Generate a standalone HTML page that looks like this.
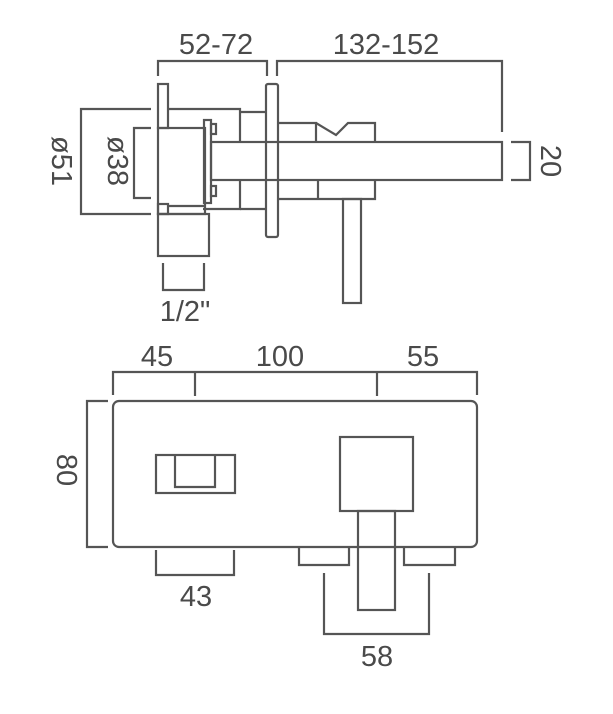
<!DOCTYPE html>
<html><head><meta charset="utf-8"><style>
html,body{margin:0;padding:0;background:#fff}
svg{display:block}
text{font-family:"Liberation Sans","DejaVu Sans",sans-serif;font-size:29px;fill:#4a4a4a}
</style></head><body>
<svg width="613" height="714" viewBox="0 0 613 714" xmlns="http://www.w3.org/2000/svg">
<g fill="none" stroke="#555" stroke-width="2.2">
<polyline points="158,76 158,61 267,61 267,76"/>
<polyline points="277,76 277,61 502,61 502,132"/>
<polyline points="151,109 81,109 81,214 151,214"/>
<polyline points="151,128 134,128 134,198 151,198"/>
<polyline points="511,142 530,142 530,180 511,180"/>
<polyline points="163,263 163,290 204,290 204,263"/>
<rect x="158" y="84" width="10" height="44"/>
<polyline points="168,109 240,109 240,142"/>
<polyline points="240,180 240,209 203,209"/>
<rect x="158" y="128" width="47" height="86"/>
<rect x="204" y="120" width="7" height="83"/>
<rect x="211" y="124" width="5" height="10"/>
<rect x="211" y="186" width="5" height="10"/>
<polyline points="240,112 267,112"/>
<polyline points="240,209 267,209"/>
<rect x="266" y="84" width="12" height="153" rx="2"/>
<rect x="211" y="142" width="291" height="38"/>
<polyline points="279,123 316,123 316,142"/>
<polyline points="316,123 336,135 348,123 375,123 375,142"/>
<polyline points="279,199 375,199 375,180"/>
<polyline points="318,180 318,199"/>
<rect x="343" y="199" width="18" height="104"/>
<rect x="158" y="214" width="51" height="42"/>
<rect x="158" y="204" width="10" height="10"/>
<line x1="168" y1="206" x2="204" y2="206"/>
<polyline points="113,395 113,372 477,372 477,395"/>
<line x1="195" y1="372" x2="195" y2="396"/>
<line x1="377" y1="372" x2="377" y2="396"/>
<rect x="113" y="401" width="364" height="146" rx="6"/>
<polyline points="108,401 87,401 87,547 108,547"/>
<rect x="156" y="455" width="79" height="38"/>
<polyline points="175,455 175,487 215,487 215,455"/>
<rect x="340" y="437" width="73" height="74"/>
<rect x="358" y="511" width="37" height="99"/>
<polyline points="299,547 299,565 349,565 349,547"/>
<polyline points="404,547 404,565 455,565 455,547"/>
<polyline points="156,550 156,575 234,575 234,550"/>
<polyline points="324,573 324,634 429,634 429,573"/>
</g>
<text x="216" y="54" text-anchor="middle">52-72</text>
<text x="386" y="54" text-anchor="middle">132-152</text>
<text x="185" y="321" text-anchor="middle">1/2"</text>
<text transform="translate(52,161) rotate(90)" text-anchor="middle">ø51</text>
<text transform="translate(108,161) rotate(90)" text-anchor="middle">ø38</text>
<text transform="translate(541,161) rotate(90)" text-anchor="middle">20</text>
<text x="157" y="366" text-anchor="middle">45</text>
<text x="280" y="366" text-anchor="middle">100</text>
<text x="423" y="366" text-anchor="middle">55</text>
<text transform="translate(57,470) rotate(90)" text-anchor="middle">80</text>
<text x="196" y="606" text-anchor="middle">43</text>
<text x="377" y="666" text-anchor="middle">58</text>
</svg>
</body></html>
